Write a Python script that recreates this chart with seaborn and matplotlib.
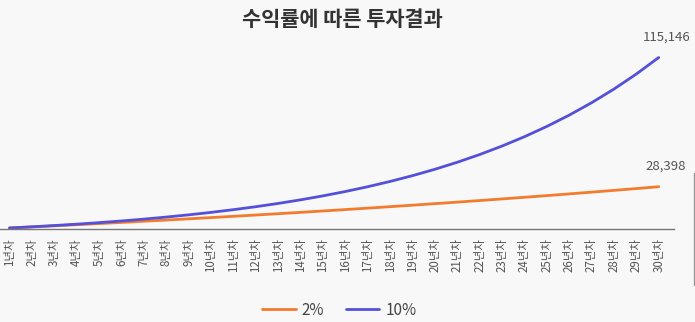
import matplotlib
matplotlib.use("Agg")
import matplotlib.pyplot as plt
from matplotlib.lines import Line2D
import seaborn as sns
import pandas as pd

# Accumulated amount by year (700 saved each year)
years = [f"{i}년차" for i in range(1, 31)]
rate_2 = [700, 1414, 2142, 2885, 3643, 4416, 5204, 6008, 6828, 7665,
          8518, 9388, 10276, 11182, 12105, 13047, 14008, 14989, 15988, 17008,
          18048, 19109, 20191, 21295, 22421, 23570, 24741, 25936, 27155, 28398]
rate_10 = [700, 1470, 2317, 3249, 4274, 5401, 6641, 8005, 9506, 11156,
           12972, 14969, 17166, 19582, 22241, 25165, 28381, 31919, 35811, 40092,
           44802, 49982, 55680, 61948, 68843, 76427, 84770, 93947, 104042, 115146]
series_names = ["2%", "10%"]
colors = ["#F37B2E", "#5550D9"]

df = pd.DataFrame({
    "idx": list(range(len(years))) * 2,
    "value": rate_2 + rate_10,
    "series": [series_names[0]] * len(years) + [series_names[1]] * len(years),
})

sns.set_theme(style="white")
plt.rcParams["font.family"] = ["Noto Sans CJK KR", "DejaVu Sans"]

bg = "#f8f8f8"
fig = plt.figure(figsize=(6.95, 3.22), dpi=100, facecolor=bg)
ax = fig.add_axes([0.0, 0.2888, 0.970, 0.587])
ax.set_facecolor(bg)

sns.lineplot(data=df, x="idx", y="value", hue="series",
             palette=dict(zip(series_names, colors)), linewidth=2.0,
             ax=ax, legend=False)

ax.set_xlim(-0.424, 29.69)
ax.set_ylim(0, 126900)
ax.set_xticks(range(len(years)))
ax.set_xticklabels(years, rotation=90, fontsize=8.3, color="#555555")
ax.tick_params(axis="x", length=0, pad=6.5)
ax.set_yticks([])
ax.set_xlabel("")
ax.set_ylabel("")
for side in ["top", "left", "right"]:
    ax.spines[side].set_visible(False)
ax.spines["bottom"].set_color("#777777")
ax.spines["bottom"].set_linewidth(1.0)

# End-value labels
last = len(years) - 1
for vals in (rate_2, rate_10):
    ax.annotate(f"{vals[last]:,}", xy=(last, vals[last]), xytext=(5.4, 14.5),
                textcoords="offset points", ha="center", va="center",
                fontsize=9.5, color="#555555", annotation_clip=False)

fig.suptitle("수익률에 따른 투자결과", x=0.4925, y=0.972, fontsize=15,
             fontweight="bold", color="#333333")

handles = [Line2D([0], [0], color=c, linewidth=2.0) for c in colors]
fig.legend(handles, series_names, loc="center", bbox_to_anchor=(0.488, 0.037),
           ncol=2, frameon=False, fontsize=11, handlelength=2.2,
           handletextpad=0.4, columnspacing=1.4, labelcolor="#444444")

# Thin border segment at the right edge
fig.add_artist(Line2D([694.3 / 695, 694.3 / 695], [1 - 173 / 322, 1 - 285 / 322],
                      transform=fig.transFigure, color="#999999", linewidth=1.0))

fig.savefig("out.png", dpi=100, facecolor=bg)
